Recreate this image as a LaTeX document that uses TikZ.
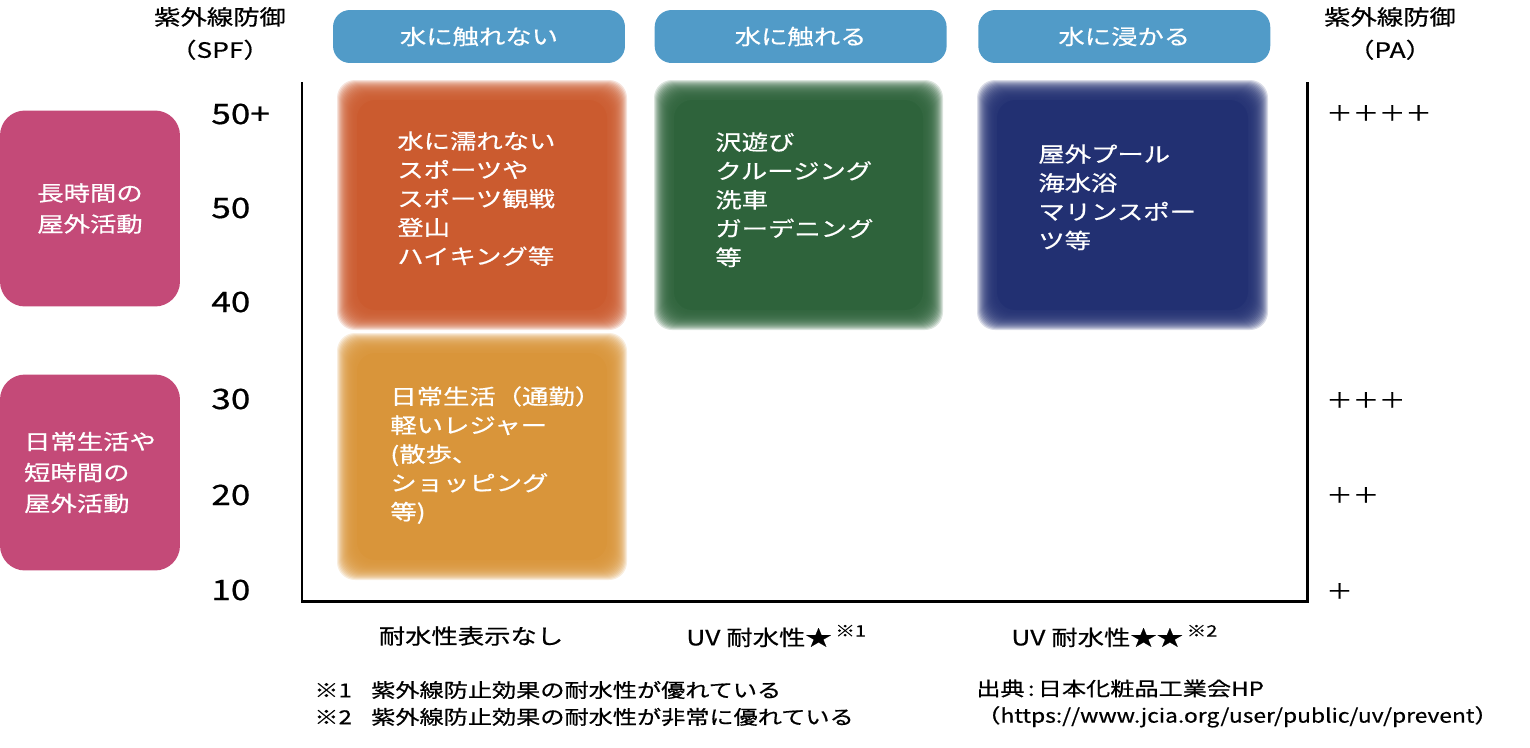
\documentclass[tikz,border=0pt]{standalone}
\usepackage{fontspec}
\setmainfont{Noto Sans CJK JP}[FakeStretch=1.25, FakeBold=0.6]
\newfontfamily\urlfont{Noto Sans CJK JP}[FakeStretch=1.18, FakeBold=0.6]
\usetikzlibrary{positioning}

\definecolor{hdrblue}{RGB}{81,155,200}
\definecolor{sidepink}{RGB}{196,74,120}
\definecolor{blkorange}{RGB}{203,91,47}
\definecolor{blkgreen}{RGB}{46,99,59}
\definecolor{blknavy}{RGB}{34,48,114}
\definecolor{blkyellow}{RGB}{217,149,58}

\begin{document}
\begin{tikzpicture}[
x=0.02cm, y=-0.02cm,
hdrbox/.style={rectangle, rounded corners=0.34cm, fill=hdrblue, text=white, minimum width=5.84cm, minimum height=1.06cm, font=\fontsize{12}{16}\selectfont},
sidebox/.style={rectangle, rounded corners=0.5cm, fill=sidepink, text=white, minimum width=3.6cm, minimum height=3.92cm, align=left, font=\fontsize{12}{17.6}\selectfont},
blocktext/.style={anchor=north west, inner sep=0pt, text=white, align=left, font=\fontsize{12}{16.4}\selectfont},
axistitle/.style={align=center, inner sep=0pt, font=\fontsize{12}{18.7}\selectfont},
spftick/.style={anchor=west, inner sep=0pt, font=\fontsize{16}{16}\selectfont},
patick/.style={anchor=west, inner sep=0pt, font=\fontsize{12}{12}\selectfont},
collabel/.style={inner sep=0pt, font=\fontsize{12}{12}\selectfont},
notetext/.style={anchor=west, align=left, inner sep=0pt, font=\fontsize{11}{15.3}\selectfont},
axis/.style={line width=1.7pt}
]
\useasboundingbox (0,0) rectangle (1530,747);

%Blocks
\foreach \xa/\ya/\xb/\yb/\col in {337/80/627/330/blkorange, 654/80/943/330/blkgreen, 977/80/1268/330/blknavy, 337/333/627/580/blkyellow}{
  \foreach \i in {0,...,19}
    \fill[\col, opacity=0.17, rounded corners=0.36cm] (\xa+\i,\ya+\i) rectangle (\xb-\i,\yb-\i);
  \fill[\col, rounded corners=0.36cm] (\xa+20,\ya+20) rectangle (\xb-20,\yb-20);
}

%Nodes
\node[hdrbox]        (hdrA)       at (479,36.5)        {水に触れない};
\node[hdrbox]        (hdrB)       [right=0.58cm of hdrA]        {水に触れる};
\node[hdrbox]        (hdrC)       [right=0.62cm of hdrB]        {水に浸かる};

\node[sidebox]        (longout)       at (90,208.5)        {長時間の\\屋外活動};
\node[sidebox]        (dailyout)       at (90,472.5)        {日常生活や\\短時間の\\屋外活動};

\node[axistitle]        (spftitle)       at (220,33.5)        {紫外線防御\\（SPF）};
\node[axistitle]        (patitle)       at (1390,33.5)        {紫外線防御\\（PA）};

\node[blocktext]        (drysport)       at (397,131)        {水に濡れない\\スポーツや\\スポーツ観戦\\登山\\ハイキング等};
\node[blocktext]        (splash)       at (715,132)        {沢遊び\\クルージング\\洗車\\ガーデニング\\等};
\node[blocktext]        (swim)       at (1038,144)        {屋外プール\\海水浴\\マリンスポー\\ツ等};
\node[blocktext]        (daily)       at (390,386)        {日常生活（通勤）\\軽いレジャー\\(散歩、\\ショッピング\\等)};

%Lines
\coordinate (axtl) at (302,82);
\coordinate (axbl) at (302,601);
\coordinate (axbr) at (1307,601);
\coordinate (axtr) at (1307,82);
\draw[axis] (axtl) -- (axbl) -- (axbr) -- (axtr);

\foreach \val/\ypos in {50+/114, 50/208, 40/302, 30/399, 20/495, 10/590}
  \node[spftick] (spf\ypos) at (211,\ypos) {\val};
\foreach \val/\ypos in {＋＋＋＋/113, ＋＋＋/400, ＋＋/495, ＋/591}
  \node[patick] (pa\ypos) at (1326,\ypos) {\val};

\node[collabel]        (nowr)       at (471,636)        {耐水性表示なし};
\node[collabel, anchor=west]        (wrone)       at (686,636)        {UV 耐水性★\,\raisebox{5pt}{\fontsize{9}{9}\selectfont ※1}};
\node[collabel, anchor=west]        (wrtwo)       at (1011,636)        {UV 耐水性★★\,\raisebox{5pt}{\fontsize{9}{9}\selectfont ※2}};

\node[notetext]        (notes)       at (314,703.5)        {※1\hspace{1em}紫外線防止効果の耐水性が優れている\\※2\hspace{1em}紫外線防止効果の耐水性が非常に優れている};
\node[notetext]        (source)       at (976,703.5)        {出典\,:\,日本化粧品工業会HP\\（{\urlfont https://www.jcia.org/user/public/uv/prevent}）};

\end{tikzpicture}
\end{document}
